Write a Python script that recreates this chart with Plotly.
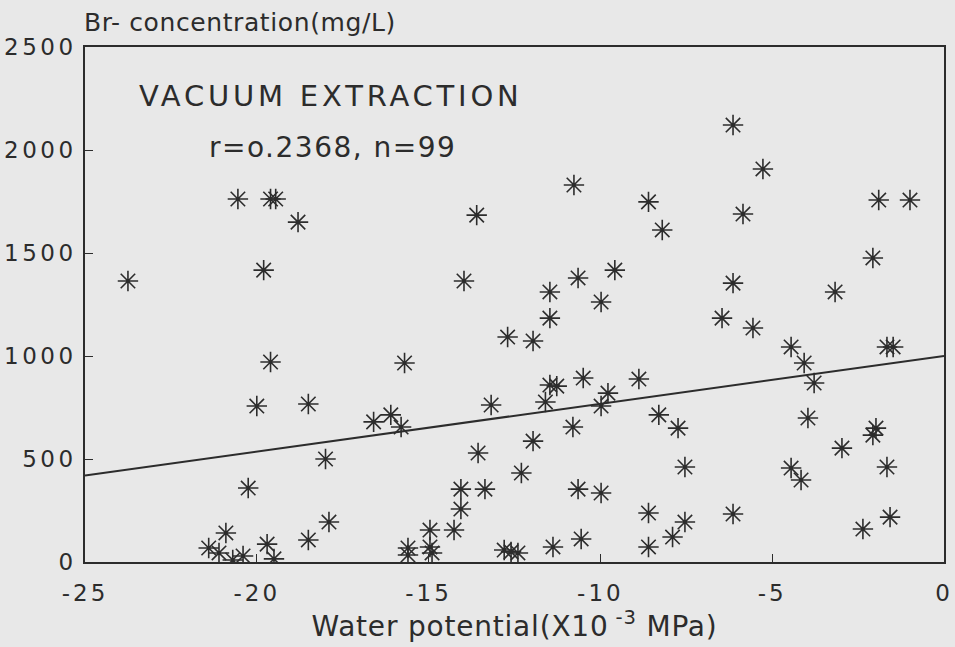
import plotly.graph_objects as go

# Water potential (x10^-3 MPa)
water_potential = [
    -23.75, -20.55, -19.6, -19.45, -18.8, -19.8, -19.6, -20.0, -18.5, -16.6,
    -18.0, -20.25, -17.9, -18.5, -20.9, -21.4, -21.1, -20.7, -20.4, -19.7,
    -19.5,
    -16.1, -15.8, -15.7, -15.6, -15.6, -14.96, -14.96, -14.9, -14.26, -14.06,
    -14.06, -13.36, -13.56, -13.18, -12.8, -12.6, -12.4, -12.7, -11.96, -11.47,
    -9.98, -11.96, -12.3, -11.6, -11.47, -11.27, -11.38, -10.8, -10.65, -10.56,
    -10.5, -9.98, -9.78, -9.98, -8.88, -8.3, -8.6, -8.6, -7.9, -7.74,
    -13.6, -13.97, -10.77, -8.6, -8.2, -9.58, -10.65, -11.47,
    -6.14, -5.27, -5.85, -1.9, -0.99, -2.07, -6.14, -3.17,
    -6.46, -5.56, -4.45, -4.07, -3.78, -1.66, -1.48, -3.96, -1.98, -2.07,
    -2.97, -1.66, -7.54, -4.45, -4.16, -7.54, -6.14, -2.36, -1.57,
]
# Br- concentration (mg/L)
br_conc = [
    1364, 1762, 1762, 1762, 1650, 1417, 971, 757, 767, 680,
    500, 359, 194, 107, 141, 68, 44, 10, 29, 87,
    15,
    714, 655, 966, 68, 34, 155, 73, 44, 155, 354,
    257, 354, 529, 762, 58, 49, 44, 1092, 1073, 1184,
    1262, 587, 432, 777, 859, 854, 73, 655, 354, 112,
    893, 757, 820, 335, 888, 714, 238, 73, 121, 650,
    1684, 1364, 1830, 1748, 1612, 1417, 1379, 1311,
    2121, 1908, 1689, 1757, 1757, 1476, 1354, 1311,
    1184, 1136, 1044, 966, 869, 1044, 1044, 699, 650, 616,
    553, 461, 461, 456, 398, 194, 233, 160, 218,
]
# Regression line end points
fit_x = [-25, 0]
fit_y = [420, 1000]

x_ticks = [-25, -20, -15, -10, -5, 0]
y_ticks = [0, 500, 1000, 1500, 2000, 2500]

ink = "#2c2c2c"
bg = "#e8e8e8"
font = "DejaVu Sans"


def spaced(text, px):
    return f'<span style="letter-spacing:{px}px">{text}</span>'


fig = go.Figure()
fig.add_trace(go.Scatter(
    x=fit_x, y=fit_y, mode="lines",
    line=dict(color=ink, width=2), hoverinfo="skip", showlegend=False,
))
fig.add_trace(go.Scatter(
    x=water_potential, y=br_conc, mode="markers",
    marker=dict(symbol="asterisk-open", size=17, color=ink,
                line=dict(color=ink, width=1.6)),
    showlegend=False,
))

fig.update_layout(
    width=955, height=647,
    margin=dict(l=85, r=11, t=47, b=85),
    paper_bgcolor=bg, plot_bgcolor=bg,
    font=dict(family=font, color=ink, size=22),
    xaxis=dict(
        range=[-25, 0], tickvals=x_ticks,
        ticktext=[spaced(str(v), 3) for v in x_ticks],
        showgrid=False, zeroline=False, showline=True, mirror=True,
        linecolor=ink, linewidth=1.5, ticks="inside", ticklen=8,
        tickcolor=ink, tickwidth=1.2, tickfont=dict(size=23, family=font),
        ticklabelstandoff=10, automargin=False,
        title=dict(text=spaced("Water potential(X10<sup> -3</sup> MPa)", 0.8),
                   font=dict(size=28, family=font), standoff=4),
    ),
    yaxis=dict(
        range=[0, 2500], tickvals=y_ticks,
        ticktext=[spaced(str(v), 3.5) for v in y_ticks],
        showgrid=False, zeroline=False, showline=True, mirror=True,
        linecolor=ink, linewidth=1.5, ticks="inside", ticklen=8,
        tickcolor=ink, tickwidth=1.2, tickfont=dict(size=23, family=font),
        ticklabelstandoff=2, automargin=False,
    ),
    annotations=[
        dict(text=spaced("Br- concentration(mg/L)", 0.6), xref="paper", yref="paper",
             x=-0.004, y=1.047, xanchor="left", yanchor="middle",
             showarrow=False, font=dict(size=25, family=font, color=ink)),
        dict(text=spaced("VACUUM EXTRACTION", 3.8), xref="paper", yref="paper",
             x=0.06, y=0.905, xanchor="left", yanchor="middle",
             showarrow=False, font=dict(size=29, family=font, color=ink)),
        dict(text=spaced("r=o.2368, n=99", 1.5), xref="paper", yref="paper",
             x=0.142, y=0.804, xanchor="left", yanchor="middle",
             showarrow=False, font=dict(size=28, family=font, color=ink)),
    ],
)

fig.write_html("out.html")
